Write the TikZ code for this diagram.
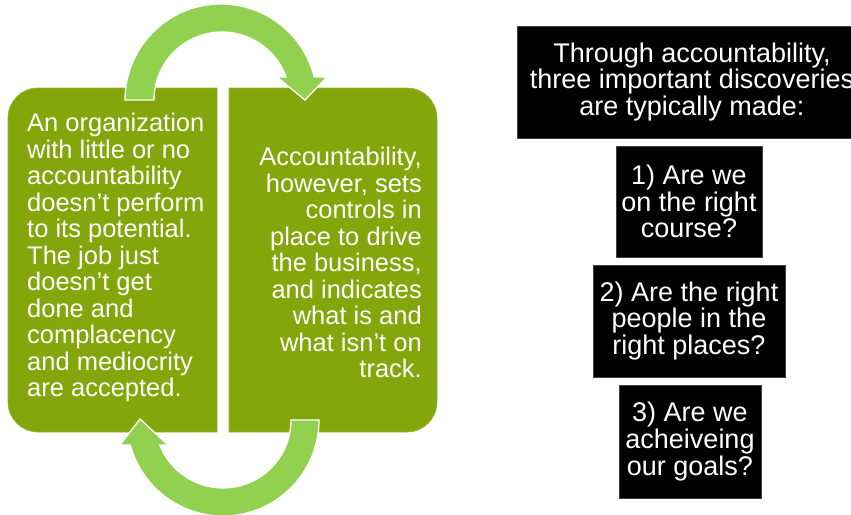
\documentclass[tikz,border=0pt]{standalone}
\usepackage{fontspec}
\setmainfont{Liberation Sans}
\definecolor{boxgreen}{HTML}{83A60A}
\definecolor{arrowgreen}{HTML}{92D050}
\definecolor{boxedge}{HTML}{404040}
\begin{document}
\begin{tikzpicture}[x=1pt,y=1pt,
  greentext/.style={text=white, inner sep=0pt, font=\fontsize{25.5}{26.5}\selectfont},
  qbox/.style={fill=black, draw=boxedge, line width=0.8pt, text=white, align=center,
    inner sep=0pt, font=\fontsize{27}{26.8}\selectfont},
  cyclearrow/.style={fill=arrowgreen, draw=white, line width=1.3pt},
  panel/.style={fill=boxgreen, draw=boxgreen!85!white, line width=0.6pt}]
\useasboundingbox (0,0) rectangle (851,-514);
\clip (0,0) rectangle (851,-514);
\fill[white] (0,0) rectangle (851,-514);

% green panels
\path[panel] (217,-88) -- (38,-88) arc[start angle=90, end angle=180, radius=30]
  -- (8,-402) arc[start angle=180, end angle=270, radius=30] -- (217,-432) -- cycle;
\path[panel] (229,-88) -- (407,-88) arc[start angle=90, end angle=0, radius=30]
  -- (437,-402) arc[start angle=0, end angle=-90, radius=30] -- (229,-432) -- cycle;

\node[greentext, align=left, anchor=north west] (lefttext) at (27,-113)
  {An organization\\with little or no\\accountability\\doesn’t perform\\to its potential.\\The job just\\doesn’t get\\done and\\complacency\\and mediocrity\\are accepted.};
\node[greentext, align=right, anchor=north east] (righttext) at (422,-147)
  {Accountability,\\however, sets\\controls in\\place to drive\\the business,\\and indicates\\what is and\\what isn’t on\\track.};

% cycle arrows
\filldraw[cyclearrow] (125,-100) arc[start angle=180, end angle=13.86, radius=96]
  -- (327,-77) -- (305,-100) -- (277,-77) -- (286,-77)
  arc[start angle=19.77, end angle=180, radius=68] -- cycle;
\filldraw[cyclearrow] (319,-420) arc[start angle=0, end angle=-164.9, radius=96]
  -- (120,-445) -- (140,-419) -- (168,-445) -- (159.8,-445)
  arc[start angle=-158.4, end angle=0, radius=68] -- cycle;

% question boxes
\node[qbox, minimum width=350pt, minimum height=112pt] (intro) at (692,-82)
  {Through accountability,\\three important discoveries\\are typically made:};
\node[qbox, minimum width=146pt, minimum height=111pt] (q1) at (689,-201.5)
  {1) Are we\\on the right\\course?};
\node[qbox, minimum width=192pt, minimum height=112pt] (q2) at (689,-321)
  {2) Are the right\\people in the\\right places?};
\node[qbox, minimum width=142pt, minimum height=113pt] (q3) at (690,-441.5)
  {3) Are we\\acheiveing\\our goals?};
\end{tikzpicture}
\end{document}
